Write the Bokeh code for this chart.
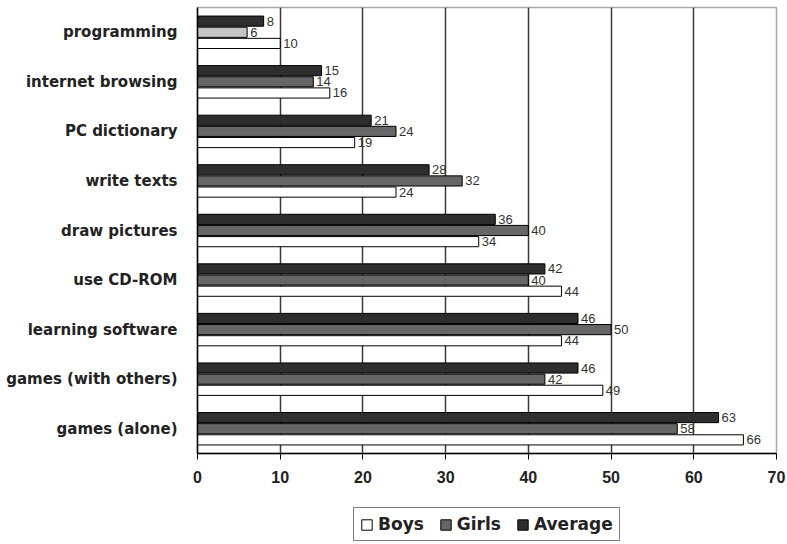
from bokeh.plotting import figure
from bokeh.layouts import column
from bokeh.models import ColumnDataSource, FactorRange, Legend, LegendItem, FixedTicker, Range1d
from bokeh.transform import dodge
from bokeh.core.properties import value
from bokeh.embed import file_html
from bokeh.resources import INLINE

categories = ["programming", "internet browsing", "PC dictionary", "write texts",
              "draw pictures", "use CD-ROM", "learning software",
              "games (with others)", "games (alone)"]
boys = [10, 16, 19, 24, 34, 44, 44, 49, 66]
girls = [6, 14, 24, 32, 40, 40, 50, 42, 58]
average = [8, 15, 21, 28, 36, 42, 46, 46, 63]
x_ticks = [0, 10, 20, 30, 40, 50, 60, 70]
series_names = ["Boys", "Girls", "Average"]

FONT = "Liberation Sans"
BFONT = "DejaVu Sans"
C_AVG = "#2e2e2e"
C_GIRLS = "#666666"
girls_colors = ["#c4c4c4"] + [C_GIRLS] * (len(categories) - 1)

src = ColumnDataSource(dict(
    cat=categories, boys=boys, girls=girls, average=average,
    boys_t=[str(v) for v in boys], girls_t=[str(v) for v in girls],
    average_t=[str(v) for v in average], girls_c=girls_colors,
))

p = figure(width=787, height=490, output_backend="svg", toolbar_location=None,
           y_range=FactorRange(*reversed(categories)), x_range=Range1d(0, 70),
           min_border_left=197, min_border_right=11, min_border_top=7,
           min_border_bottom=37)
p.outline_line_color = "#a8a8a8"
p.outline_line_width = 1.5
p.background_fill_color = "white"
p.border_fill_color = "white"

off = 0.225
h = 0.205
r_avg = p.hbar(y=dodge("cat", off, range=p.y_range), right="average", height=h, left=0,
               source=src, fill_color=C_AVG, line_color="black", line_width=1)
r_girls = p.hbar(y=dodge("cat", 0, range=p.y_range), right="girls", height=h, left=0,
                 source=src, fill_color="girls_c", line_color="black", line_width=1)
r_boys = p.hbar(y=dodge("cat", -off, range=p.y_range), right="boys", height=h, left=0,
                source=src, fill_color="white", line_color="black", line_width=1)

for col, o in (("average", off), ("girls", 0), ("boys", -off)):
    p.text(x=col, y=dodge("cat", o, range=p.y_range), text=col + "_t", source=src,
           x_offset=3, text_baseline="middle", text_align="left",
           text_font=value(FONT), text_font_size="13px", text_color="#333333")

p.xaxis.ticker = FixedTicker(ticks=x_ticks)
p.xaxis.major_label_text_font = FONT
p.xaxis.major_label_text_font_style = "bold"
p.xaxis.major_label_text_font_size = "16px"
p.xaxis.major_label_text_color = "#222222"
p.xaxis.axis_line_color = "black"
p.xaxis.axis_line_width = 1.5
p.xaxis.major_tick_line_color = "black"
p.xaxis.major_tick_out = 6
p.xaxis.major_tick_in = 0
p.xaxis.minor_tick_line_color = None
p.xaxis.major_label_standoff = 11

p.yaxis.major_label_text_font = BFONT
p.yaxis.major_label_text_font_style = "bold"
p.yaxis.major_label_text_font_size = "15px"
p.yaxis.major_label_text_color = "#222222"
p.yaxis.axis_line_color = "black"
p.yaxis.axis_line_width = 1.5
p.yaxis.major_tick_line_color = None
p.yaxis.major_label_standoff = 14

p.xgrid.ticker = FixedTicker(ticks=x_ticks[1:-1])
p.xgrid.grid_line_color = "#3a3a3a"
p.xgrid.grid_line_width = 1.5
p.ygrid.grid_line_color = None

# legend strip below the chart (its frame is aligned with the chart's frame)
q = figure(width=787, height=54, output_backend="svg", toolbar_location=None,
           x_range=Range1d(0, 1), y_range=Range1d(0, 1),
           x_axis_type=None, y_axis_type=None,
           min_border_left=197, min_border_right=11, min_border_top=0, min_border_bottom=0)
q.outline_line_color = None
q.xgrid.visible = False
q.ygrid.visible = False
# off-screen placeholder glyphs that only serve as legend swatches
ph = ColumnDataSource(dict(y=[-10], right=[-10]))
lb = q.hbar(y="y", right="right", left=-11, height=0.1, source=ph, fill_color="white", line_color="black")
lg = q.hbar(y="y", right="right", left=-11, height=0.1, source=ph, fill_color=C_GIRLS, line_color="black")
la = q.hbar(y="y", right="right", left=-11, height=0.1, source=ph, fill_color=C_AVG, line_color="black")

legend = Legend(items=[
    LegendItem(label=series_names[0], renderers=[lb]),
    LegendItem(label=series_names[1], renderers=[lg]),
    LegendItem(label=series_names[2], renderers=[la]),
], orientation="horizontal", location=(156, 3))
legend.label_text_font = BFONT
legend.label_text_font_style = "bold"
legend.label_text_font_size = "17px"
legend.label_text_color = "#222222"
legend.glyph_width = 13
legend.glyph_height = 13
legend.label_standoff = 5
legend.spacing = 15
legend.padding = 6
legend.margin = 0
legend.border_line_color = "black"
legend.border_line_width = 1
legend.label_height = 17
q.add_layout(legend, "center")

open("out.html", "w").write(file_html(column(p, q, spacing=0), INLINE))
